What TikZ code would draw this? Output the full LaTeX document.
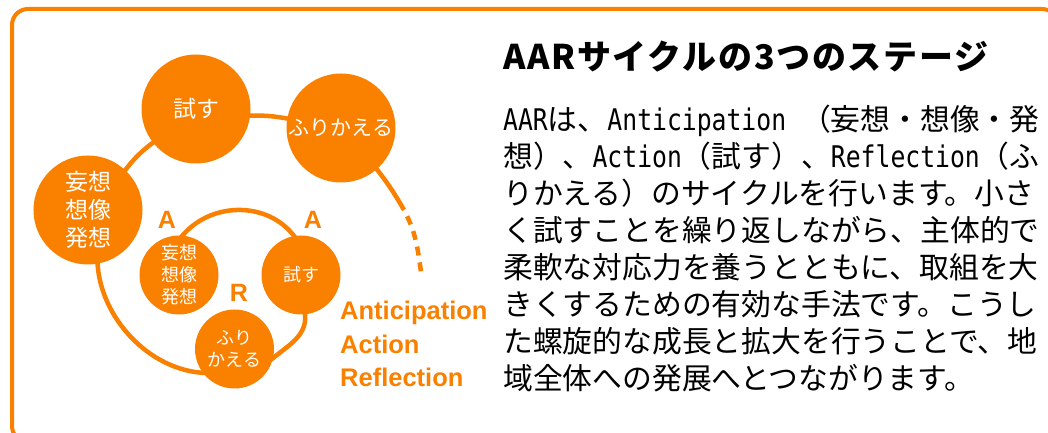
\documentclass[tikz,border=0pt]{standalone}
\usepackage{fontspec}
\setmainfont{Noto Sans CJK JP}
\newfontfamily\latsans{Liberation Sans}
\newfontfamily\latmono[FakeStretch=0.83]{DejaVu Sans Mono}
\usetikzlibrary{backgrounds}
\definecolor{aarorange}{RGB}{250,128,0}
\newcommand{\lat}[1]{{\latmono #1}}

\tikzset{
  bigstage/.style={circle, fill=aarorange, text=white, minimum size=109bp, inner sep=0pt, align=center, font=\fontsize{23bp}{28bp}\selectfont},
  smallstage/.style={circle, fill=aarorange, text=white, minimum size=79bp, inner sep=0pt, align=center, font=\fontsize{18bp}{22bp}\selectfont},
  spiral/.style={draw=aarorange, line width=4.5bp, shorten <=-3bp, shorten >=-3bp},
  stageletter/.style={anchor=base, text=aarorange, inner sep=0pt, font=\latsans\bfseries\fontsize{25bp}{25bp}\selectfont},
  aarword/.style={anchor=base west, text=aarorange, inner sep=0pt, font=\latsans\bfseries\fontsize{25.5bp}{30bp}\selectfont},
  bodyline/.style={anchor=west, inner sep=0pt, text height=26bp, text depth=3.6bp, font=\fontsize{29.8bp}{37bp}\selectfont},
}

\begin{document}
\begin{tikzpicture}[x=1bp, y=-1bp]
\useasboundingbox (0,0) rectangle (1048,433);
% frame
\begin{scope}
\clip (0,0) rectangle (1048,433);
\draw[aarorange, line width=4bp, rounded corners=16bp] (12,9) rectangle (1058,442);
\end{scope}

% outer turn
\node[bigstage] (bigimg) at (88,210) {妄想\\想像\\発想};
\node[bigstage] (bigtry) at (196,109) {試す};
\node[bigstage, font=\fontsize{21bp}{26bp}\selectfont] (bigref) at (341,128) {ふりかえる};

% inner turn
\node[smallstage] (smallimg) at (179,275) {妄想\\想像\\発想};
\node[smallstage] (smalltry) at (301,275) {試す};
\node[smallstage] (smallref) at (234.5,349) {ふり\\かえる};
\node[stageletter] (ltrimg) at (167,229) {A};
\node[stageletter] (ltrtry) at (313,229) {A};
\node[stageletter] (ltrref) at (239,302) {R};

\coordinate (spiralmid) at (404,210);
\coordinate (spiralend) at (421,272);

% spiral line
\begin{scope}[on background layer]
\fill[white] (0,0) rectangle (1048,433);
\draw[spiral] (smallimg.85) to[out=52,in=125] (smalltry.100);
\draw[spiral] (smalltry.-84) to[out=-80,in=40] (smallref.-13);
\draw[spiral] (smallref.217) to[out=178,in=-88,looseness=0.9] (bigimg.-80);
\draw[spiral] (bigimg.47) to[bend left=8] (bigtry.218);
\draw[spiral] (bigtry.-7) to[bend left=6] (bigref.170);
\draw[spiral, shorten >=0pt] (bigref.-49) to[out=-52,in=120] (spiralmid);
\draw[spiral, shorten <=0pt, shorten >=0pt, dash pattern=on 9bp off 7bp, dash phase=9bp] (spiralmid) to[out=-62,in=98] (spiralend);
\end{scope}

% AAR words
\node[aarword] (antic) at (340,320) {Anticipation};
\node[aarword] (actn) at (340,354) {Action};
\node[aarword] (refl) at (340,387) {Reflection};

% title and text
\node[anchor=west, inner sep=0pt, text height=29bp, text depth=4bp, font=\bfseries\fontsize{34bp}{40bp}\selectfont\addfontfeature{LetterSpace=5}] (title) at (503,57) {AARサイクルの3つのステージ};
\node[bodyline] (line1) at (503,119) {\lat{AAR}は、\lat{Anticipation }（妄想・想像・発};
\node[bodyline] (line2) at (503,156) {想）、\lat{Action}（試す）、\lat{Reflection}（ふ};
\node[bodyline] (line3) at (503,193) {りかえる）のサイクルを行います。小さ};
\node[bodyline] (line4) at (503,230) {く試すことを繰り返しながら、主体的で};
\node[bodyline] (line5) at (503,267) {柔軟な対応力を養うとともに、取組を大};
\node[bodyline] (line6) at (503,304) {きくするための有効な手法です。こうし};
\node[bodyline] (line7) at (503,341) {た螺旋的な成長と拡大を行うことで、地};
\node[bodyline] (line8) at (503,378) {域全体への発展へとつながります。};
\end{tikzpicture}
\end{document}
